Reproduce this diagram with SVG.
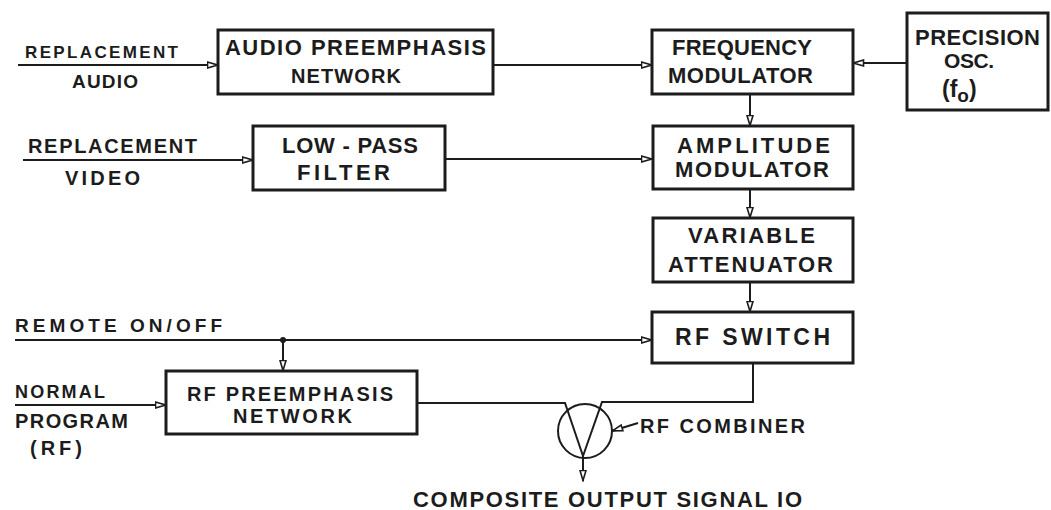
<svg xmlns="http://www.w3.org/2000/svg" width="1051" height="510" viewBox="0 0 1051 510">
<style>
.box{fill:none;stroke:#1c1c1c;stroke-width:3}
.ln{fill:none;stroke:#1c1c1c;stroke-width:2}
.t{font-family:"Liberation Sans",Arial,sans-serif;font-weight:bold;fill:#1c1c1c}
</style>
<defs>
<marker id="ah" viewBox="0 0 12 8" refX="11.5" refY="4" markerWidth="12" markerHeight="8" markerUnits="userSpaceOnUse" orient="auto">
<path d="M1,1 L11,4 L1,7 Z" fill="#fff" stroke="#1c1c1c" stroke-width="1.6"/>
</marker>
</defs>
<rect width="1051" height="510" fill="#fff"/>

<g id="connectors">
<line class="ln" x1="18" y1="65" x2="218" y2="65" marker-end="url(#ah)"/>
<line class="ln" x1="493" y1="65" x2="652" y2="65" marker-end="url(#ah)"/>
<line class="ln" x1="907" y1="63" x2="853" y2="63" marker-end="url(#ah)"/>
<line class="ln" x1="23" y1="160" x2="253" y2="160" marker-end="url(#ah)"/>
<line class="ln" x1="445" y1="159" x2="652" y2="159" marker-end="url(#ah)"/>
<line class="ln" x1="750" y1="94" x2="750" y2="126" marker-end="url(#ah)"/>
<line class="ln" x1="750" y1="189" x2="750" y2="218" marker-end="url(#ah)"/>
<line class="ln" x1="750" y1="282" x2="750" y2="312" marker-end="url(#ah)"/>
<line class="ln" x1="15" y1="340" x2="652" y2="340" marker-end="url(#ah)"/>
<circle cx="283" cy="340" r="3" fill="#1c1c1c"/>
<line class="ln" x1="283" y1="340" x2="283" y2="371" marker-end="url(#ah)"/>
<line class="ln" x1="15" y1="405" x2="166" y2="405" marker-end="url(#ah)"/>
<polyline class="ln" points="417,403 565,403 583,456"/>
<polyline class="ln" points="753,363 753,402 602,402 583,456"/>
<line class="ln" x1="583" y1="456" x2="583" y2="481" marker-end="url(#ah)"/>
<line class="ln" x1="638" y1="423" x2="612" y2="431" marker-end="url(#ah)"/>
</g>

<g id="combiner">
<circle cx="585" cy="431" r="27" class="ln"/>
<text class="t" x="640" y="433" font-size="20" textLength="165">RF COMBINER</text>
</g>

<g id="audio-in">
<text class="t" x="25" y="58" font-size="17" textLength="153">REPLACEMENT</text>
<text class="t" x="72" y="88" font-size="19" textLength="66">AUDIO</text>
</g>
<g id="audio-preemphasis">
<rect class="box" x="218" y="30" width="275" height="64"/>
<text class="t" x="225" y="55" font-size="22" textLength="261">AUDIO PREEMPHASIS</text>
<text class="t" x="291" y="83" font-size="20" textLength="110">NETWORK</text>
</g>
<g id="frequency-modulator">
<rect class="box" x="652" y="30" width="201" height="64"/>
<text class="t" x="672" y="55" font-size="22" textLength="140">FREQUENCY</text>
<text class="t" x="668" y="83" font-size="22" textLength="145">MODULATOR</text>
</g>
<g id="precision-osc">
<rect class="box" x="907" y="13" width="141" height="97"/>
<text class="t" x="915" y="45" font-size="22" textLength="125">PRECISION</text>
<text class="t" x="944" y="68" font-size="21" textLength="50">OSC.</text>
<text class="t" x="942" y="97" font-size="23">(f<tspan font-size="19" dy="5">o</tspan><tspan dy="-5">)</tspan></text>
</g>
<g id="video-in">
<text class="t" x="28" y="153" font-size="20" textLength="169">REPLACEMENT</text>
<text class="t" x="65" y="185" font-size="20" textLength="75">VIDEO</text>
</g>
<g id="low-pass-filter">
<rect class="box" x="253" y="126" width="192" height="64"/>
<text class="t" x="282" y="153" font-size="22" textLength="136">LOW - PASS</text>
<text class="t" x="297" y="180" font-size="22" textLength="93">FILTER</text>
</g>
<g id="amplitude-modulator">
<rect class="box" x="653" y="126" width="200" height="63"/>
<text class="t" x="677" y="153" font-size="22" textLength="153">AMPLITUDE</text>
<text class="t" x="675" y="177" font-size="22" textLength="154">MODULATOR</text>
</g>
<g id="variable-attenuator">
<rect class="box" x="653" y="218" width="200" height="64"/>
<text class="t" x="688" y="243" font-size="22" textLength="127">VARIABLE</text>
<text class="t" x="668" y="272" font-size="22" textLength="165">ATTENUATOR</text>
</g>
<g id="rf-switch">
<rect class="box" x="652" y="312" width="201" height="51"/>
<text class="t" x="675" y="345" font-size="23" textLength="155">RF SWITCH</text>
</g>
<g id="remote-in">
<text class="t" x="15" y="332" font-size="19" textLength="207">REMOTE ON/OFF</text>
</g>
<g id="normal-in">
<text class="t" x="15" y="398" font-size="18" textLength="90">NORMAL</text>
<text class="t" x="15" y="428" font-size="20" textLength="113">PROGRAM</text>
<text class="t" x="30" y="455" font-size="20" textLength="52">(RF)</text>
</g>
<g id="rf-preemphasis">
<rect class="box" x="166" y="371" width="251" height="63"/>
<text class="t" x="187" y="401" font-size="20" textLength="206">RF PREEMPHASIS</text>
<text class="t" x="233" y="423" font-size="20" textLength="119">NETWORK</text>
</g>
<g id="output">
<text class="t" x="413" y="507" font-size="22" textLength="389">COMPOSITE OUTPUT SIGNAL IO</text>
</g>
</svg>
